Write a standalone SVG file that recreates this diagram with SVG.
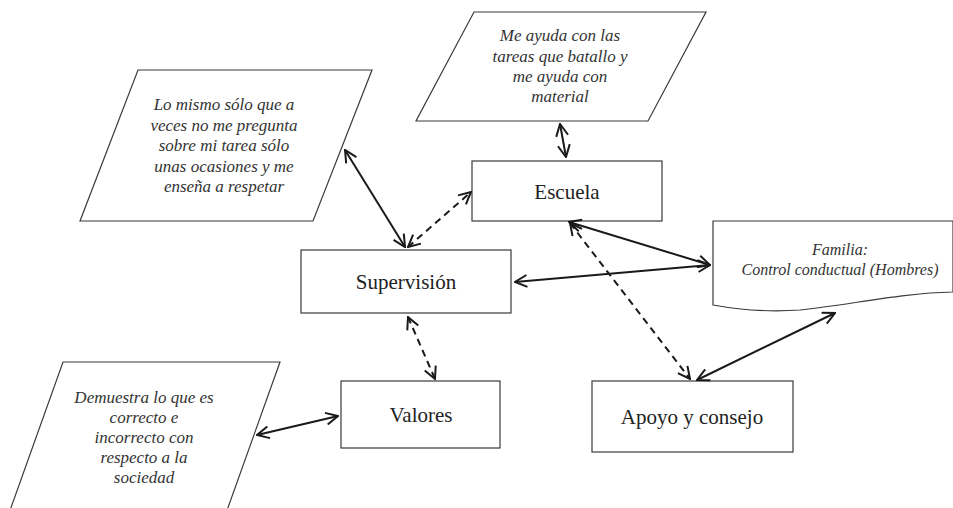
<svg xmlns="http://www.w3.org/2000/svg" width="953" height="508" viewBox="0 0 953 508">
<defs>
<marker id="ah" viewBox="0 0 14 14" markerWidth="14" markerHeight="14" refX="13" refY="7" orient="auto-start-reverse" markerUnits="userSpaceOnUse">
<path d="M1,1 L13,7 L1,13" fill="none" stroke="#1a1a1a" stroke-width="2"/>
</marker>
</defs>
<style>
.shape{fill:#fff;stroke:#3a3a3a;stroke-width:1.2}
.lbl{font-size:21px;fill:#222;text-anchor:middle}
.it{font-size:17px;font-style:italic;fill:#333;text-anchor:middle}
.c{fill:none;stroke:#1a1a1a;stroke-width:2;marker-start:url(#ah);marker-end:url(#ah)}
.d{stroke-dasharray:7,5}
</style>
<rect width="953" height="508" fill="#fff"/>
<g font-family="'Liberation Serif', 'Times New Roman', Times, 'Nimbus Roman', 'Nimbus Roman No9 L', FreeSerif, Tinos, 'Noto Serif', 'DejaVu Serif', serif">
<g id="n-ayuda">
<path class="shape" d="M474,12 L706,12 L648,121 L416,121 Z"/>
<text class="it" x="560" y="41">Me ayuda con las</text>
<text class="it" x="560" y="62">tareas que batallo y</text>
<text class="it" x="560" y="82">me ayuda con</text>
<text class="it" x="560" y="102">material</text>
</g>
<g id="n-lomismo">
<path class="shape" d="M138,70 L372,70 L313,221 L80,221 Z"/>
<text class="it" x="224" y="110">Lo mismo sólo que a</text>
<text class="it" x="224" y="131">veces no me pregunta</text>
<text class="it" x="224" y="151">sobre mi tarea sólo</text>
<text class="it" x="224" y="172">unas ocasiones y me</text>
<text class="it" x="224" y="192">enseña a respetar</text>
</g>
<g id="n-escuela">
<rect class="shape" x="472" y="161" width="190" height="60"/>
<text class="lbl" x="567" y="199">Escuela</text>
</g>
<g id="n-supervision">
<rect class="shape" x="301" y="250" width="210" height="63"/>
<text class="lbl" x="406" y="289">Supervisión</text>
</g>
<g id="n-familia">
<path class="shape" d="M713,221 L953,221 L953,292 C900,293 850,305 800,310 C770,312 740,310 713,305 Z"/>
<text class="it" x="840" y="255" style="font-size:16px">Familia:</text>
<text class="it" x="840" y="275" style="font-size:16px">Control conductual (Hombres)</text>
</g>
<g id="n-valores">
<rect class="shape" x="341" y="381" width="159" height="67"/>
<text class="lbl" x="421" y="422">Valores</text>
</g>
<g id="n-apoyo">
<rect class="shape" x="592" y="381" width="201" height="71"/>
<text class="lbl" x="692" y="424">Apoyo y consejo</text>
</g>
<g id="n-demuestra">
<path class="shape" d="M63,362 L280,362 L225,516 L8,516 Z"/>
<text class="it" x="144" y="403">Demuestra lo que es</text>
<text class="it" x="144" y="423">correcto e</text>
<text class="it" x="144" y="443">incorrecto con</text>
<text class="it" x="144" y="463">respecto a la</text>
<text class="it" x="144" y="483">sociedad</text>
</g>
</g>
<g id="connectors">
<line class="c" x1="345" y1="150" x2="405" y2="247"/>
<line class="c d" x1="408" y1="247" x2="471" y2="192"/>
<line class="c" x1="560" y1="124" x2="566" y2="157"/>
<line class="c" x1="569" y1="222" x2="710" y2="265"/>
<line class="c" x1="515" y1="282" x2="710" y2="265"/>
<line class="c d" x1="570" y1="223" x2="690" y2="379"/>
<line class="c" x1="697" y1="380" x2="835" y2="313"/>
<line class="c d" x1="408" y1="317" x2="435" y2="379"/>
<line class="c" x1="257" y1="435" x2="338" y2="416"/>
</g>
</svg>
